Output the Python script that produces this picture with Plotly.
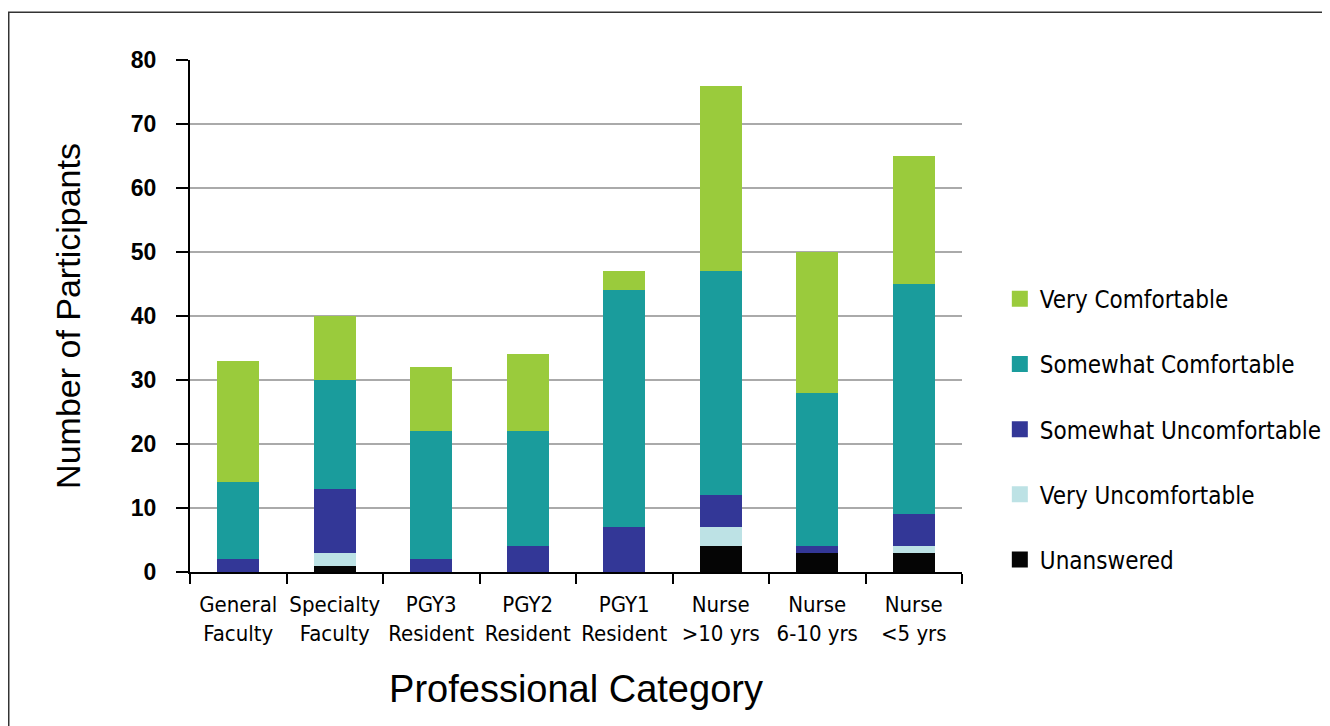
import plotly.graph_objects as go

categories = ["General<br>Faculty", "Specialty<br>Faculty", "PGY3<br>Resident", "PGY2<br>Resident",
              "PGY1<br>Resident", "Nurse<br>>10 yrs", "Nurse<br>6-10 yrs", "Nurse<br><5 yrs"]
unanswered = [0, 1, 0, 0, 0, 4, 3, 3]
very_uncomfortable = [0, 2, 0, 0, 0, 3, 0, 1]
somewhat_uncomfortable = [2, 10, 2, 4, 7, 5, 1, 5]
somewhat_comfortable = [12, 17, 20, 18, 37, 35, 24, 36]
very_comfortable = [19, 10, 10, 12, 3, 29, 22, 20]

series = [
    ("Unanswered", unanswered, "#050505"),
    ("Very Uncomfortable", very_uncomfortable, "#bde2e5"),
    ("Somewhat Uncomfortable", somewhat_uncomfortable, "#333797"),
    ("Somewhat Comfortable", somewhat_comfortable, "#1a9c9c"),
    ("Very Comfortable", very_comfortable, "#9acb3c"),
]

NARROW = "DejaVu Sans Condensed, Roboto, sans-serif"
WIDE = "Liberation Sans, Arial, sans-serif"

fig = go.Figure()
for i, (name, vals, col) in enumerate(series):
    fig.add_trace(go.Bar(x=categories, y=vals, name=name, marker_color=col,
                         marker_line_width=0, showlegend=False, legendgroup=name))
# legend entries (square swatches), top item = Very Comfortable
for i, (name, vals, col) in reversed(list(enumerate(series))):
    fig.add_trace(go.Scatter(x=[None], y=[None], mode="markers", name=name,
                             marker=dict(symbol="square", size=24, color=col),
                             legendgroup=name, showlegend=True))

fig.update_layout(
    barmode="stack",
    bargap=0.56,
    width=1322, height=718,
    paper_bgcolor="white", plot_bgcolor="white",
    margin=dict(l=182, r=368, t=52, b=154, autoexpand=False),
    font=dict(family=NARROW, color="black"),
    legend=dict(traceorder="grouped", tracegroupgap=31, itemsizing="trace",
                font=dict(size=24, family=NARROW, color="black"),
                x=1.049, y=0.279, yanchor="middle", xanchor="left", itemwidth=30),
    xaxis=dict(showline=True, linecolor="black", linewidth=2, ticks="outside",
               ticklen=10, tickcolor="black", tickwidth=2, tickson="boundaries",
               tickangle=0, automargin=False, ticklabelstandoff=12,
               tickfont=dict(size=22, family=NARROW, color="black"),
               title=dict(text="Professional Category", font=dict(size=38, family=WIDE),
                          standoff=30)),
    yaxis=dict(range=[0, 80], dtick=10, showline=True, linecolor="black", linewidth=2,
               ticks="outside", ticklen=12, tickcolor="black", tickwidth=2,
               showgrid=True, gridcolor="#aaaaaa", gridwidth=1.5, zeroline=False,
               automargin=False, ticklabelstandoff=15,
               tickfont=dict(size=23, family=WIDE, weight="bold"),
               title=dict(text="Number of Participants", font=dict(size=34, family=WIDE),
                          standoff=40)),
    shapes=[dict(type="rect", xref="paper", yref="paper", x0=-0.2348, x1=1.6, y0=-0.35, y1=1.0935,
                 line=dict(color="#333333", width=1.5), layer="below")],
)

fig.write_html("out.html")
